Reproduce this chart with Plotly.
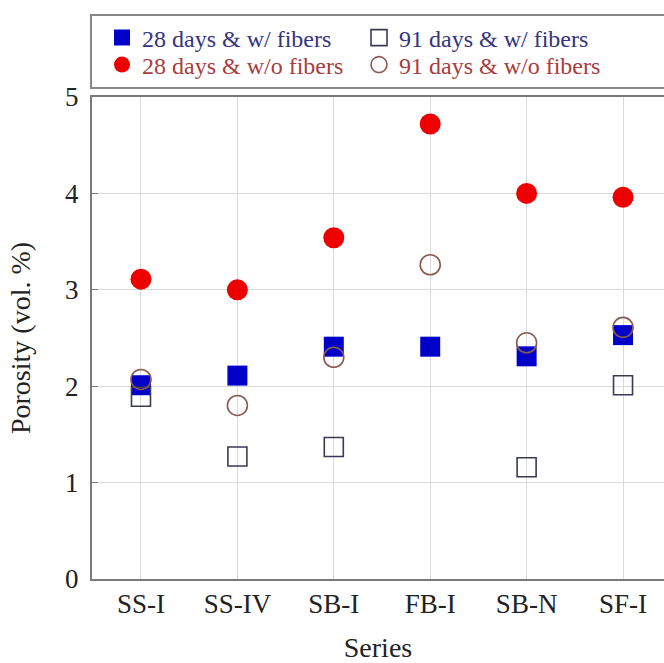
import plotly.graph_objects as go

categories = ["SS-I", "SS-IV", "SB-I", "FB-I", "SB-N", "SF-I"]
d28_with = [2.01, 2.11, 2.41, 2.41, 2.31, 2.53]
d91_with = [1.89, 1.27, 1.37, None, 1.16, 2.01]
d28_without = [3.11, 3.00, 3.54, 4.72, 4.00, 3.96]
d91_without = [2.07, 1.80, 2.30, 3.26, 2.45, 2.61]

xs = list(range(len(categories)))
serif = "Liberation Serif"
blue_txt = "#34347e"
red_txt = "#a83c3c"

fig = go.Figure()
fig.add_trace(go.Scatter(
    x=xs, y=d28_with, mode="markers", legend="legend",
    name="28 days &amp; w/ fibers",
    marker=dict(symbol="square", size=20, color="#0000c8", line=dict(width=0))))
fig.add_trace(go.Scatter(
    x=xs, y=d28_without, mode="markers", legend="legend2",
    name="28 days &amp; w/o fibers",
    marker=dict(symbol="circle", size=21, color="#ee0000", line=dict(width=0))))
fig.add_trace(go.Scatter(
    x=xs, y=d91_with, mode="markers", legend="legend",
    name="91 days &amp; w/ fibers",
    marker=dict(symbol="square-open", size=19, color="#3a3a55", line=dict(width=1.6))))
fig.add_trace(go.Scatter(
    x=xs, y=d91_without, mode="markers", legend="legend2",
    name="91 days &amp; w/o fibers",
    marker=dict(symbol="circle-open", size=20, color="#8a5a50", line=dict(width=1.6))))

leg_common = dict(
    orientation="h", x=0.0175, xanchor="left", yanchor="middle",
    bgcolor="rgba(0,0,0,0)", borderwidth=0,
    entrywidth=212, entrywidthmode="pixels", itemsizing="trace",
)

fig.update_layout(
    width=664, height=663,
    margin=dict(l=92, r=0, t=97, b=84),
    paper_bgcolor="white", plot_bgcolor="white",
    font=dict(family=serif, size=27, color="#222"),
    showlegend=True,
    legend=dict(leg_common, y=(579 - 38) / 482,
                font=dict(family=serif, size=24, color=blue_txt)),
    legend2=dict(leg_common, y=(579 - 65) / 482,
                 font=dict(family=serif, size=24, color=red_txt)),
    shapes=[dict(type="rect", xref="paper", yref="paper",
                 x0=(91 - 92) / 572, x1=1.02, y0=(579 - 88) / 482, y1=(579 - 15) / 482,
                 line=dict(color="#888", width=2), fillcolor="white", layer="below")],
    xaxis=dict(
        tickmode="array", tickvals=xs, ticktext=categories,
        range=[-0.508, 5.425], showgrid=True, gridcolor="#d9d9d9", gridwidth=1,
        showline=True, linecolor="#7a7a7a", linewidth=2, mirror=True,
        ticks="", zeroline=False,
        tickfont=dict(family=serif, size=27, color="#222"),
        title=dict(text="Series", font=dict(family=serif, size=28, color="#222"), standoff=23),
    ),
    yaxis=dict(
        range=[0, 5], tickvals=[0, 1, 2, 3, 4, 5],
        showgrid=True, gridcolor="#d9d9d9", gridwidth=1,
        showline=True, linecolor="#7a7a7a", linewidth=2, mirror=False,
        ticks="inside", ticklen=6, tickcolor="#7a7a7a", zeroline=False,
        ticklabelstandoff=6,
        tickfont=dict(family=serif, size=27, color="#222"),
        title=dict(text="Porosity (vol. %)", font=dict(family=serif, size=28, color="#222"), standoff=26),
    ),
)

fig.write_html("out.html")
